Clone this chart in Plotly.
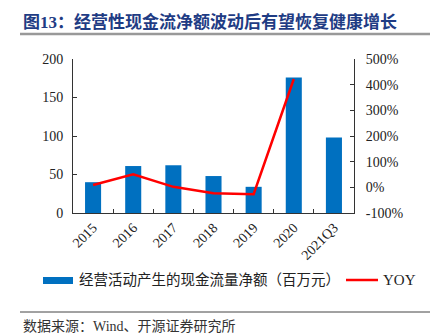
import plotly.graph_objects as go

categories = ["2015", "2016", "2017", "2018", "2019", "2020", "2021Q3"]
cash_flow = [40, 61, 62, 48, 34, 176, 98]
yoy = [9, 51, 2, -23, -27, 422, None]
left_ticks = [0, 50, 100, 150, 200]
right_ticks = [-100, 0, 100, 200, 300, 400, 500]
right_labels = ["-100%", "0%", "100%", "200%", "300%", "400%", "500%"]

title_text = "图13：经营性现金流净额波动后有望恢复健康增长"
bar_name = "经营活动产生的现金流量净额（百万元）"
line_name = "YOY"
source_text = "数据来源：Wind、开源证券研究所"

W, H = 430, 336
serif = "Liberation Serif, Times New Roman, Noto Sans CJK SC"
cjk = "Liberation Serif, Noto Sans CJK SC"

fig = go.Figure()
fig.add_trace(go.Bar(x=categories, y=cash_flow, name=bar_name,
                     marker=dict(color="#0070C0", line=dict(width=0)),
                     width=0.4, yaxis="y"))
fig.add_trace(go.Scatter(x=categories, y=yoy, name=line_name, mode="lines",
                         line=dict(color="#FF0000", width=2.5), yaxis="y2",
                         connectgaps=False))

axis_common = dict(showline=True, linecolor="#333333", linewidth=1,
                   ticks="inside", ticklen=4, tickcolor="#333333",
                   showgrid=False, zeroline=False,
                   tickfont=dict(family=serif, size=14, color="#222222"))

fig.update_layout(
    width=W, height=H,
    margin=dict(l=73, r=76, t=59, b=123),
    paper_bgcolor="white", plot_bgcolor="white",
    showlegend=False,
    bargap=0.6,
    xaxis=dict(type="category", tickangle=-45, tickson="boundaries",
               **axis_common),
    yaxis=dict(range=[0, 200], tickvals=left_ticks, ticklabelstandoff=6,
               **axis_common),
    yaxis2=dict(range=[-100, 500], tickvals=right_ticks, ticktext=right_labels,
                ticklabelstandoff=8, overlaying="y", side="right",
                **axis_common),
)

px_x = lambda v: (v - 73) / (W - 73 - 76)
px_y = lambda v: 1 - (v - 59) / (H - 59 - 123)

# Title and rules
fig.add_annotation(text="<b>" + title_text + "</b>", xref="paper", yref="paper",
                   x=px_x(21), y=px_y(22),
                   xanchor="left", yanchor="middle", showarrow=False,
                   font=dict(family=cjk, size=17, color="#1F3C84"))
fig.add_shape(type="line", xref="paper", yref="paper",
              x0=px_x(20), x1=px_x(430), y0=px_y(34), y1=px_y(34),
              line=dict(color="#999999", width=2.5))
fig.add_shape(type="line", xref="paper", yref="paper",
              x0=px_x(20), x1=px_x(430), y0=px_y(312), y1=px_y(312),
              line=dict(color="#444444", width=1))

# Manual legend
fig.add_shape(type="rect", xref="paper", yref="paper",
              x0=px_x(43), x1=px_x(73), y0=px_y(284), y1=px_y(277),
              fillcolor="#0070C0", line=dict(width=0))
fig.add_annotation(text=bar_name, xref="paper", yref="paper",
                   x=px_x(77), y=px_y(280), xanchor="left", yanchor="middle",
                   showarrow=False, font=dict(family=cjk, size=14.5, color="#222222"))
fig.add_shape(type="line", xref="paper", yref="paper",
              x0=px_x(346), x1=px_x(378), y0=px_y(280), y1=px_y(280),
              line=dict(color="#FF0000", width=2.5))
fig.add_annotation(text=line_name, xref="paper", yref="paper",
                   x=px_x(381), y=px_y(280), xanchor="left", yanchor="middle",
                   showarrow=False, font=dict(family=serif, size=15, color="#222222"))

fig.add_annotation(text=source_text, xref="paper", yref="paper",
                   x=px_x(21), y=px_y(326), xanchor="left", yanchor="middle",
                   showarrow=False, font=dict(family=cjk, size=14, color="#333333"))

fig.write_html("out.html")
